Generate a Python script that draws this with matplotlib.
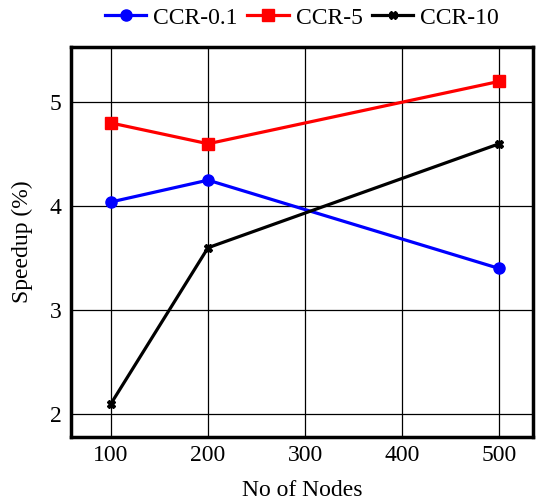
import matplotlib
matplotlib.use("Agg")
import matplotlib.pyplot as plt

nodes = [100, 200, 500]
ccr01 = [4.04, 4.25, 3.40]
ccr5 = [4.8, 4.6, 5.2]
ccr10 = [2.1, 3.6, 4.6]
xticks = [100, 200, 300, 400, 500]
yticks = [2, 3, 4, 5]

plt.rcParams['font.family'] = ['Liberation Serif', 'DejaVu Serif']

fig = plt.figure(figsize=(5.38, 5.01), dpi=100)
ax = fig.add_axes([0.132, 0.128, 0.859, 0.778])

ax.plot(nodes, ccr01, color='blue', lw=2.3, marker='o', ms=8, label='CCR-0.1')
ax.plot(nodes, ccr5, color='red', lw=2.3, marker='s', ms=8, label='CCR-5')
ax.plot(nodes, ccr10, color='black', lw=2.3, marker='X', ms=6, label='CCR-10')

ax.set_xlim(58.8, 535)
ax.set_ylim(1.78, 5.53)
ax.set_xticks(xticks)
ax.set_yticks(yticks)
ax.grid(True, color='black', lw=0.9)
ax.set_axisbelow(True)
ax.tick_params(axis='x', direction='in', length=0, labelsize=17, pad=6)
ax.tick_params(axis='y', direction='in', length=0, labelsize=17, pad=7)
for s in ax.spines.values():
    s.set_linewidth(2.5)
ax.set_xlabel('No of Nodes', fontsize=17, labelpad=10)
ax.set_ylabel('Speedup (%)', fontsize=17, labelpad=12)

ax.legend(loc='lower center', bbox_to_anchor=(0.5, 1.035), ncol=3, frameon=False,
          fontsize=17, handlelength=1.75, columnspacing=0.4, handletextpad=0.3,
          borderaxespad=0.1, borderpad=0.1)

fig.savefig('out.png', dpi=100)
